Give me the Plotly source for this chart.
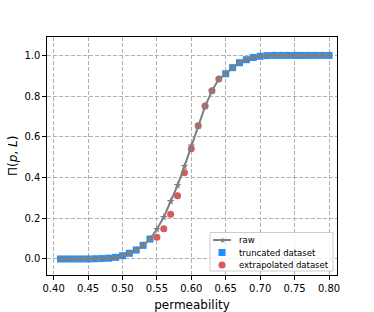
import plotly.graph_objects as go

# permeability values (x axis)
p = [0.41, 0.42, 0.43, 0.44, 0.45, 0.46, 0.47, 0.48, 0.49, 0.50,
     0.51, 0.52, 0.53, 0.54, 0.55, 0.56, 0.57, 0.58, 0.59, 0.60,
     0.61, 0.62, 0.63, 0.64, 0.65, 0.66, 0.67, 0.68, 0.69, 0.70,
     0.71, 0.72, 0.73, 0.74, 0.75, 0.76, 0.77, 0.78, 0.79, 0.80]

# raw spanning probability
raw = [0.000, 0.000, 0.000, 0.000, 0.000, 0.001, 0.002, 0.004, 0.008, 0.016,
       0.028, 0.044, 0.067, 0.098, 0.146, 0.205, 0.283, 0.362, 0.455, 0.556,
       0.654, 0.750, 0.826, 0.884, 0.910, 0.940, 0.964, 0.979, 0.990, 0.996,
       0.999, 1.000, 1.000, 1.000, 1.000, 1.000, 1.000, 1.000, 1.000, 1.000]

# truncated dataset: both tails of the raw curve
trunc_p = [0.41, 0.42, 0.43, 0.44, 0.45, 0.46, 0.47, 0.48, 0.49, 0.50,
           0.51, 0.52, 0.53, 0.54,
           0.65, 0.66, 0.67, 0.68, 0.69, 0.70, 0.71, 0.72, 0.73, 0.74,
           0.75, 0.76, 0.77, 0.78, 0.79, 0.80]
trunc_v = [0.000, 0.000, 0.000, 0.000, 0.000, 0.001, 0.002, 0.004, 0.008, 0.016,
           0.028, 0.044, 0.067, 0.098,
           0.910, 0.940, 0.964, 0.979, 0.990, 0.996, 0.999, 1.000, 1.000, 1.000,
           1.000, 1.000, 1.000, 1.000, 1.000, 1.000]

# extrapolated dataset: middle region
extra_p = [0.55, 0.56, 0.57, 0.58, 0.59, 0.60, 0.61, 0.62, 0.63, 0.64]
extra_v = [0.107, 0.149, 0.220, 0.311, 0.423, 0.542, 0.655, 0.752, 0.827, 0.884]

x_ticks = [0.40, 0.45, 0.50, 0.55, 0.60, 0.65, 0.70, 0.75, 0.80]
y_ticks = [0.0, 0.2, 0.4, 0.6, 0.8, 1.0]

legend_labels = ["raw", "truncated dataset", "extrapolated dataset"]

FONT = "DejaVu Sans"
GRAY = "#808080"
BLUE = "#1e90ff"
RED = "#d65b5b"

W, H = 374, 312
L, R, T, B = 47, 37, 37, 37
PW, PH = W - L - R, H - T - B


def px(X):
    # page pixel -> paper fraction (x)
    return (X - L) / PW


def py(Y):
    # page pixel -> paper fraction (y)
    return (H - B - Y) / PH


fig = go.Figure()

fig.add_trace(go.Scatter(
    x=trunc_p, y=trunc_v, mode="markers", name=legend_labels[1],
    marker=dict(symbol="square", size=7, color=BLUE),
))
fig.add_trace(go.Scatter(
    x=extra_p, y=extra_v, mode="markers", name=legend_labels[2],
    marker=dict(symbol="circle", size=7, color=RED),
))
fig.add_trace(go.Scatter(
    x=p, y=raw, mode="lines+markers", name=legend_labels[0],
    line=dict(color=GRAY, width=2),
    marker=dict(symbol="star", size=6, color=GRAY),
))

axis_common = dict(
    showline=True, linecolor="black", linewidth=1.2, mirror=True,
    ticks="outside", ticklen=3.5, tickwidth=1, tickcolor="black",
    showgrid=True, gridcolor="#b0b0b0", gridwidth=1.2, griddash="4px,2px",
    zeroline=False, automargin=False,
    tickfont=dict(family=FONT, size=10, color="black"),
)

fig.update_xaxes(
    range=[0.3904, 0.8116], tickvals=x_ticks, tickformat=".2f",
    title=dict(text="permeability", font=dict(family=FONT, size=12, color="black")),
    **axis_common,
)
fig.update_yaxes(
    range=[-0.0787, 1.0905], tickvals=y_ticks, tickformat=".1f",
    **axis_common,
)

annotations = [dict(
    x=px(13), y=0.5, xref="paper", yref="paper",
    text="Π(<i>p</i>, <i>L</i>)", textangle=-90, showarrow=False,
    xanchor="center", yanchor="middle",
    font=dict(family=FONT, size=12, color="black"),
)]

# hand-drawn legend box (matplotlib style, compact rows)
shapes = [dict(
    type="rect", xref="paper", yref="paper",
    x0=px(210), x1=px(333), y0=py(271), y1=py(232.5),
    fillcolor="rgba(255,255,255,0.8)", line=dict(color="#cccccc", width=1),
    layer="above",
)]
row_y = [240, 252.5, 265]
key_x = 222

# raw: line with star
shapes.append(dict(
    type="line", xref="paper", yref="paper",
    x0=px(213), x1=px(231), y0=py(row_y[0]), y1=py(row_y[0]),
    line=dict(color=GRAY, width=2), layer="above",
))
annotations.append(dict(
    x=px(key_x), y=py(row_y[0]), xref="paper", yref="paper",
    text="★", showarrow=False, font=dict(family=FONT, size=8, color=GRAY),
    xanchor="center", yanchor="middle",
))
# truncated: square
shapes.append(dict(
    type="rect", xref="paper", yref="paper", xsizemode="pixel", ysizemode="pixel",
    xanchor=px(key_x), yanchor=py(row_y[1]), x0=-3.5, x1=3.5, y0=-3.5, y1=3.5,
    fillcolor=BLUE, line=dict(width=0), layer="above",
))
# extrapolated: circle
shapes.append(dict(
    type="circle", xref="paper", yref="paper", xsizemode="pixel", ysizemode="pixel",
    xanchor=px(key_x), yanchor=py(row_y[2]), x0=-3.5, x1=3.5, y0=-3.5, y1=3.5,
    fillcolor=RED, line=dict(width=0), layer="above",
))
for label, yy in zip(legend_labels, row_y):
    annotations.append(dict(
        x=px(237), y=py(yy), xref="paper", yref="paper",
        text=label, showarrow=False, xanchor="left", yanchor="middle",
        font=dict(family=FONT, size=8.5, color="black"),
    ))

fig.update_layout(
    width=W, height=H,
    margin=dict(l=L, r=R, t=T, b=B),
    paper_bgcolor="white", plot_bgcolor="white",
    font=dict(family=FONT, color="black"),
    showlegend=False,
    shapes=shapes,
    annotations=annotations,
)

# drop the browser's default body margin so the figure sits at the page origin
fig.write_html(
    "out.html",
    config={"displayModeBar": False},
    post_script="document.body.style.margin = '0';",
)
